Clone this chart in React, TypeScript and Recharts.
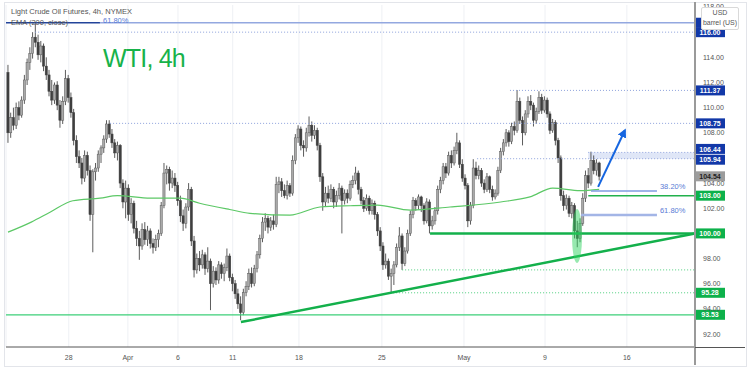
import React from 'react';
import {
  ComposedChart, Bar, Line, XAxis, YAxis, CartesianGrid,
  ReferenceLine, ReferenceDot, ReferenceArea,
} from 'recharts';

// 4h candles, [open, high, low, close]
const OHLC: [number, number, number, number][] = [
  [112.8, 113.4, 107.2, 108.0], [108.0, 109.6, 107.6, 109.2], [109.2, 110.0, 108.2, 108.6], [108.6, 110.4, 108.3, 110.0],
  [110.0, 110.5, 109.0, 109.4], [109.4, 110.9, 109.2, 110.6], [110.6, 112.6, 110.3, 112.2], [112.2, 113.9, 111.8, 113.6],
  [113.6, 114.8, 113.0, 114.3], [114.3, 116.0, 113.9, 115.6], [115.6, 116.7, 114.8, 115.2], [115.2, 115.8, 113.8, 114.2],
  [114.2, 115.3, 113.6, 114.9], [114.9, 115.1, 112.9, 113.3], [113.3, 114.0, 112.2, 112.6], [112.6, 113.0, 110.9, 111.3],
  [111.3, 112.2, 110.2, 110.6], [110.6, 112.0, 110.3, 111.8], [111.8, 112.1, 109.8, 110.2], [110.2, 110.6, 108.4, 109.0],
  [109.0, 110.9, 108.7, 110.5], [110.5, 113.0, 110.2, 112.3], [112.3, 112.6, 110.4, 110.8], [110.8, 111.2, 109.2, 109.6],
  [109.6, 109.9, 107.0, 107.4], [107.4, 107.8, 105.6, 106.1], [106.1, 106.6, 105.2, 105.6], [105.6, 106.0, 103.9, 104.4],
  [104.4, 106.6, 104.1, 106.2], [106.2, 106.5, 104.6, 105.0], [105.0, 105.4, 101.0, 101.5], [101.5, 105.1, 98.5, 104.9],
  [104.9, 105.6, 104.2, 105.2], [105.2, 106.6, 104.9, 106.3], [106.3, 107.0, 105.6, 106.8], [106.8, 107.8, 106.4, 107.5],
  [107.5, 109.0, 107.2, 108.7], [108.7, 109.0, 107.6, 107.9], [107.9, 108.3, 106.8, 107.2], [107.2, 107.5, 106.0, 106.4],
  [106.4, 107.3, 105.8, 107.0], [107.0, 107.1, 103.6, 104.0], [104.0, 104.3, 102.0, 102.5], [102.5, 104.2, 101.2, 103.6],
  [103.6, 103.9, 101.0, 101.5], [101.5, 102.8, 100.8, 102.4], [102.4, 102.6, 100.0, 100.4], [100.4, 101.0, 99.0, 99.6],
  [99.6, 100.2, 97.9, 99.0], [99.0, 100.8, 98.7, 100.3], [100.3, 100.9, 99.1, 99.5], [99.5, 100.6, 99.0, 100.2],
  [100.2, 100.4, 98.8, 99.2], [99.2, 99.6, 98.4, 98.9], [98.9, 99.9, 98.6, 99.5], [99.5, 100.3, 98.9, 100.0],
  [100.0, 102.5, 99.8, 102.2], [102.2, 105.6, 102.0, 104.8], [104.8, 105.4, 103.9, 105.1], [105.1, 105.3, 103.4, 104.0],
  [104.0, 105.0, 103.6, 104.4], [104.4, 104.8, 103.3, 103.8], [103.8, 104.1, 102.2, 102.6], [102.6, 103.0, 100.9, 101.4],
  [101.4, 101.9, 100.2, 100.8], [100.8, 102.4, 100.4, 102.1], [102.1, 104.0, 101.8, 103.5], [103.5, 103.7, 99.0, 99.4],
  [99.4, 99.8, 96.5, 97.1], [97.1, 98.4, 96.8, 98.0], [98.0, 98.6, 97.0, 97.5], [97.5, 98.7, 97.2, 98.3],
  [98.3, 98.5, 96.7, 97.2], [97.2, 98.9, 96.9, 97.8], [97.8, 98.0, 93.9, 96.0], [96.0, 97.4, 95.7, 97.0],
  [97.0, 97.3, 95.9, 96.3], [96.3, 97.8, 96.0, 97.5], [97.5, 97.7, 96.4, 96.8], [96.8, 97.6, 96.2, 97.3],
  [97.3, 98.8, 97.0, 98.2], [98.2, 98.4, 96.2, 96.5], [96.5, 96.8, 95.4, 96.0], [96.0, 96.3, 94.8, 95.2],
  [95.2, 95.6, 94.0, 94.4], [94.4, 95.0, 93.1, 93.7], [93.7, 95.6, 93.5, 95.3], [95.3, 96.2, 95.0, 95.8],
  [95.8, 97.2, 95.5, 96.8], [96.8, 97.3, 95.7, 96.0], [96.0, 97.5, 95.8, 97.2], [97.2, 98.6, 96.9, 98.3],
  [98.3, 99.9, 98.0, 99.6], [99.6, 101.3, 99.3, 100.9], [100.9, 101.6, 100.2, 101.2], [101.2, 101.4, 100.0, 100.5],
  [100.5, 101.3, 100.2, 101.0], [101.0, 101.5, 100.3, 100.7], [100.7, 104.5, 100.5, 103.9], [103.9, 104.5, 103.2, 104.1],
  [104.1, 104.4, 102.9, 103.4], [103.4, 103.9, 102.8, 103.0], [103.0, 104.2, 102.7, 103.8], [103.8, 104.0, 102.9, 103.2],
  [103.2, 106.2, 103.0, 105.8], [105.8, 107.9, 105.5, 107.6], [107.6, 108.6, 107.2, 108.3], [108.3, 108.5, 106.6, 107.0],
  [107.0, 107.4, 106.1, 106.8], [106.8, 108.4, 106.5, 108.0], [108.0, 109.3, 107.7, 108.6], [108.6, 108.9, 107.3, 107.8],
  [107.8, 108.6, 107.5, 108.2], [108.2, 108.4, 106.6, 107.0], [107.0, 107.2, 104.1, 104.5], [104.5, 104.8, 101.8, 102.5],
  [102.5, 103.7, 102.1, 103.2], [103.2, 103.8, 102.4, 102.8], [102.8, 103.9, 102.5, 103.5], [103.5, 103.7, 102.0, 102.5],
  [102.5, 103.4, 102.1, 103.0], [103.0, 104.0, 102.7, 103.6], [103.6, 103.8, 100.0, 102.6], [102.6, 103.5, 102.3, 103.2],
  [103.2, 103.5, 102.4, 102.8], [102.8, 104.2, 102.6, 103.9], [103.9, 104.6, 103.6, 104.2], [104.2, 105.3, 103.9, 104.8],
  [104.8, 105.0, 103.1, 103.5], [103.5, 103.7, 102.3, 102.6], [102.6, 102.9, 101.7, 102.0], [102.0, 103.1, 101.8, 102.8],
  [102.8, 103.0, 101.5, 101.8], [101.8, 102.7, 101.5, 102.4], [102.4, 102.6, 101.1, 101.5], [101.5, 101.7, 99.8, 100.2],
  [100.2, 100.5, 98.6, 99.0], [99.0, 99.3, 97.1, 97.5], [97.5, 98.4, 97.2, 97.8], [97.8, 98.0, 96.3, 96.6],
  [96.6, 97.2, 95.28, 96.8], [96.8, 97.8, 95.9, 97.5], [97.5, 99.2, 97.3, 98.9], [98.9, 100.5, 98.6, 99.8],
  [99.8, 100.0, 97.1, 97.6], [97.6, 98.9, 97.4, 98.6], [98.6, 100.3, 98.4, 100.0], [100.0, 101.8, 99.8, 101.5],
  [101.5, 102.9, 101.2, 102.6], [102.6, 102.8, 101.8, 102.2], [102.2, 103.1, 101.9, 102.9], [102.9, 103.0, 101.7, 102.2],
  [102.2, 102.4, 100.7, 101.0], [101.0, 102.8, 100.8, 102.5], [102.5, 102.7, 100.0, 100.6], [100.6, 101.4, 100.3, 101.0],
  [101.0, 102.1, 100.7, 101.8], [101.8, 103.8, 101.5, 103.5], [103.5, 104.5, 103.2, 104.2], [104.2, 105.6, 103.9, 105.3],
  [105.3, 105.6, 104.4, 104.8], [104.8, 106.5, 104.6, 106.2], [106.2, 106.6, 105.2, 105.6], [105.6, 106.9, 105.4, 106.6],
  [106.6, 108.0, 106.3, 107.2], [107.2, 107.4, 105.2, 105.5], [105.5, 105.9, 104.1, 104.4], [104.4, 104.7, 103.5, 103.8],
  [103.8, 104.0, 100.5, 101.0], [101.0, 102.5, 100.7, 102.2], [102.2, 105.9, 102.0, 105.2], [105.2, 105.7, 104.3, 104.6],
  [104.6, 105.4, 104.3, 105.0], [105.0, 105.2, 103.7, 104.0], [104.0, 104.3, 103.2, 103.5], [103.5, 104.8, 103.3, 104.5],
  [104.5, 104.6, 103.2, 103.5], [103.5, 103.8, 102.6, 102.9], [102.9, 103.5, 102.7, 103.2], [103.2, 105.3, 103.0, 105.0],
  [105.0, 106.8, 104.8, 106.5], [106.5, 107.5, 106.2, 107.2], [107.2, 108.3, 106.9, 108.0], [108.0, 108.2, 106.9, 107.3],
  [107.3, 108.8, 107.1, 108.5], [108.5, 108.9, 107.8, 108.2], [108.2, 111.4, 108.0, 110.5], [110.5, 110.8, 108.7, 109.0],
  [109.0, 109.3, 107.0, 108.0], [108.0, 109.8, 107.8, 109.5], [109.5, 110.9, 109.2, 110.5], [110.5, 111.0, 109.8, 110.2],
  [110.2, 110.4, 108.5, 109.0], [109.0, 110.0, 108.7, 109.7], [109.7, 111.3, 109.5, 110.8], [110.8, 111.1, 109.5, 109.8],
  [109.8, 110.9, 109.6, 110.6], [110.6, 110.8, 109.2, 109.5], [109.5, 109.7, 107.9, 108.2], [108.2, 109.1, 108.0, 108.8],
  [108.8, 109.0, 107.0, 107.4], [107.4, 107.6, 105.6, 106.0], [106.0, 106.2, 102.6, 103.0], [103.0, 103.4, 101.8, 102.2],
  [102.2, 103.1, 101.9, 102.8], [102.8, 103.0, 101.3, 101.6], [101.6, 102.5, 101.2, 102.2], [102.2, 102.4, 99.6, 100.2],
  [100.2, 101.0, 98.9, 99.6], [99.6, 101.2, 99.3, 100.8], [100.8, 103.2, 100.6, 102.8], [102.8, 105.0, 102.5, 104.6],
  [104.6, 105.2, 103.6, 104.0], [104.0, 106.5, 103.8, 105.8], [105.8, 106.2, 104.7, 105.0], [105.0, 105.9, 104.6, 105.6],
  [105.6, 105.7, 104.2, 104.54],
];

// EMA(200, close), sampled along the curve (candle index -> price)
const EMA_X = [0, 8.5, 15.5, 23.7, 33.6, 40, 52, 63, 70, 81, 88.4, 103, 114, 125, 135, 147, 161.5, 180, 190.7, 199, 209, 216];
const EMA_Y = [100.1, 100.9, 101.7, 102.6, 102.8, 103.0, 102.8, 102.8, 102.4, 101.9, 101.6, 101.45, 102.1, 102.2, 102.25, 101.85, 102.1, 102.5, 102.9, 103.6, 103.4, 103.5];

const TICK_POS = [22.2, 43.8, 62.1, 82.1, 106.3, 136.6, 166.6, 196.2, 226.1];
const TICK_LABELS = ['28', 'Apr', '6', '11', '18', '25', 'May', '9', '16'];
const PRICE_TICKS = [92, 94, 96, 98, 102, 104, 108, 110, 112, 114, 118];

const X_MIN = -0.73;
const X_MAX = 251;
const Y_MIN = 90.97;
const Y_MAX = 118.16;

// horizontal levels: [price, first candle index]
const BLUE_DOTTED: [number, number][] = [[116.0, 9.9], [111.37, 183.4], [108.75, 37.3], [106.44, 212], [105.94, 171.4]];
const GREEN_DOTTED: [number, number][] = [[97.1, 144], [95.28, 140.7]];
const FIB_TOP = 116.75;
const FIB_382 = 103.37;
const FIB_618 = 101.46;
const SUPPORT_103 = 103.0;
const SUPPORT_100 = 100.0;
const LOW_LINE = 93.53;
const TREND_FROM: [number, number] = [85.1, 92.95];
const TREND_TO: [number, number] = [251, 100.0];
const ARROW_FROM: [number, number] = [215.6, 103.7];
const ARROW_TO: [number, number] = [225.4, 108.2];
const DIP_CENTER: [number, number] = [207.9, 99.79];

// axis tags; the 116.75 one sits under the currency box, so it shows no text
const TAG_VALUES = [116.75, 116.0, 111.37, 108.75, 106.44, 105.94, 104.54, 103.0, 100.0, 95.28, 93.53];
const TAG_KINDS = ['hidden', 'blue', 'blue', 'blue', 'blue', 'blue', 'last', 'green', 'green', 'green', 'green'];
const TAG_NUDGE: Record<string, number> = { '106.44': -3.5, '105.94': 1 };

const FONT = '"Liberation Sans", Arial, sans-serif';

function Candle(props: any) {
  const { x, y, width, height, payload } = props;
  if (x == null || !payload) return null;
  const cx = x + width / 2;
  const top = Math.min(y, y + height);
  const span = Math.abs(height);
  const range = payload.h - payload.l || 1;
  const at = (v: number) => top + ((payload.h - v) / range) * span;
  const up = payload.c >= payload.o;
  const b1 = at(Math.max(payload.o, payload.c));
  const b2 = at(Math.min(payload.o, payload.c));
  return (
    <g>
      <line x1={cx} x2={cx} y1={top} y2={top + span} stroke="#4a4a4a" strokeWidth={0.9} />
      <rect
        x={cx - 1.1}
        y={b1}
        width={2.2}
        height={Math.max(b2 - b1, 0.8)}
        fill={up ? '#a9a9a9' : '#3f3f3f'}
        stroke={up ? '#5c5c5c' : '#3f3f3f'}
        strokeWidth={0.5}
      />
    </g>
  );
}

function PriceTag({ cx, cy, value, kind }: { cx: number; cy: number; value: number; kind: string }) {
  const fill = kind === 'last' ? '#9c9c9c' : kind === 'green' ? '#0db14b' : '#1238a8';
  const color = kind === 'last' ? '#1e1e1e' : '#ffffff';
  const dy = TAG_NUDGE[value.toFixed(2)] ?? 0;
  return (
    <g>
      <rect x={cx} y={cy - 5 + dy} width={30} height={10} fill={fill} />
      {kind !== 'hidden' && (
        <text x={cx + 15} y={cy + 2.6 + dy} textAnchor="middle" fontSize={7} fontWeight={700} fill={color} fontFamily={FONT}>
          {value.toFixed(2)}
        </text>
      )}
    </g>
  );
}

export default function App() {
  const data = OHLC.map(([o, h, l, c], i) => ({ i, o, h, l, c }));
  const ema = EMA_X.map((i, k) => ({ i, v: EMA_Y[k] }));

  return (
    <div style={{ position: 'absolute', left: 0, top: 0, width: 751, height: 370, background: '#fff', fontFamily: FONT }}>
      <ComposedChart width={751} height={370} data={data} margin={{ top: 5, right: 6, bottom: 5, left: 6 }}>
        <defs>
          <marker id="arrowHead" markerWidth="9" markerHeight="9" refX="7" refY="4.5" orient="auto" markerUnits="userSpaceOnUse">
            <path d="M0,0 L9,4.5 L0,9 z" fill="#1565e0" />
          </marker>
        </defs>
        <CartesianGrid horizontal={false} stroke="#eef0f4" />
        <XAxis
          dataKey="i"
          type="number"
          domain={[X_MIN, X_MAX]}
          allowDataOverflow
          ticks={TICK_POS}
          tickFormatter={(v: number) => TICK_LABELS[TICK_POS.indexOf(v)] ?? ''}
          tickLine={false}
          axisLine={{ stroke: '#555', strokeWidth: 1 }}
          tick={{ fontSize: 7, fill: '#555', fontFamily: FONT }}
          height={18}
        />
        <YAxis
          orientation="right"
          domain={[Y_MIN, Y_MAX]}
          allowDataOverflow
          ticks={PRICE_TICKS}
          tickFormatter={(v: number) => v.toFixed(2)}
          tickLine={false}
          axisLine={{ stroke: '#9a9a9a', strokeWidth: 2 }}
          tick={{ fontSize: 7, fill: '#555', fontFamily: FONT }}
          width={50}
        />

        <ReferenceArea x1={212} x2={X_MAX} y1={105.94} y2={106.44} fill="#dfe6f7" fillOpacity={1} stroke="none" />

        {BLUE_DOTTED.map(([p, from]) => (
          <ReferenceLine key={`b${p}`} segment={[{ x: from, y: p }, { x: X_MAX, y: p }]} stroke="#8ea2dc" strokeDasharray="1 2" />
        ))}
        {GREEN_DOTTED.map(([p, from]) => (
          <ReferenceLine key={`g${p}`} segment={[{ x: from, y: p }, { x: X_MAX, y: p }]} stroke="#4fd07f" strokeDasharray="1 2" />
        ))}
        <ReferenceLine segment={[{ x: X_MIN, y: FIB_TOP }, { x: 33.6, y: FIB_TOP }]} stroke="#23449a" strokeWidth={1.5} />
        <ReferenceLine segment={[{ x: 33.6, y: FIB_TOP }, { x: X_MAX, y: FIB_TOP }]} stroke="#93a8e0" strokeWidth={1.5} />
        <ReferenceLine segment={[{ x: X_MIN, y: LOW_LINE }, { x: X_MAX, y: LOW_LINE }]} stroke="#3ccf78" strokeWidth={1.2} />

        <Bar dataKey={(d: any) => [d.l, d.h]} barSize={3} isAnimationActive={false} shape={(p: any) => <Candle {...p} />} />
        <Line data={ema} dataKey="v" type="monotone" stroke="#5cc866" strokeWidth={1.2} dot={false} isAnimationActive={false} />

        <ReferenceLine segment={[{ x: 213, y: FIB_382 }, { x: 237.1, y: FIB_382 }]} stroke="#7f9be0" strokeWidth={1.5} />
        <ReferenceLine segment={[{ x: 209.4, y: FIB_618 }, { x: 237.1, y: FIB_618 }]} stroke="#a3b5e6" strokeWidth={2.5} />
        <ReferenceLine segment={[{ x: 212, y: SUPPORT_103 }, { x: X_MAX, y: SUPPORT_103 }]} stroke="#22b14c" strokeWidth={1.5} />
        <ReferenceLine segment={[{ x: 154.2, y: SUPPORT_100 }, { x: X_MAX, y: SUPPORT_100 }]} stroke="#13b04b" strokeWidth={2.5} />
        <ReferenceLine
          segment={[{ x: TREND_FROM[0], y: TREND_FROM[1] }, { x: TREND_TO[0], y: TREND_TO[1] }]}
          stroke="#13b04b"
          strokeWidth={2.5}
        />
        <ReferenceLine
          segment={[{ x: ARROW_FROM[0], y: ARROW_FROM[1] }, { x: ARROW_TO[0], y: ARROW_TO[1] }]}
          stroke="#1565e0"
          strokeWidth={2}
          markerEnd="url(#arrowHead)"
        />
        <ReferenceDot
          x={DIP_CENTER[0]}
          y={DIP_CENTER[1]}
          ifOverflow="visible"
          shape={(p: any) => <ellipse cx={p.cx} cy={p.cy} rx={5} ry={27} fill="#2fd35f" fillOpacity={0.5} />}
        />
        <ReferenceDot
          x={237.1}
          y={FIB_382}
          ifOverflow="visible"
          shape={(p: any) => (
            <text x={p.cx + 3} y={p.cy - 2.5} fontSize={7.5} fill="#5a7bd5" fontFamily={FONT}>38.20%</text>
          )}
        />
        <ReferenceDot
          x={237.1}
          y={FIB_618}
          ifOverflow="visible"
          shape={(p: any) => (
            <text x={p.cx + 3} y={p.cy - 2.5} fontSize={7.5} fill="#5a7bd5" fontFamily={FONT}>61.80%</text>
          )}
        />

        {TAG_VALUES.map((v, k) => (
          <ReferenceDot
            key={`t${v}`}
            x={X_MAX}
            y={v}
            ifOverflow="visible"
            shape={(p: any) => <PriceTag cx={p.cx} cy={p.cy} value={v} kind={TAG_KINDS[k]} />}
          />
        ))}
      </ComposedChart>

      {/* frame, axis extensions and overlay texts */}
      <div style={{ position: 'absolute', left: 4, top: 2, width: 741, height: 363, border: '1px solid #e3e5ea', pointerEvents: 'none' }} />
      <div style={{ position: 'absolute', left: 694, top: 2, width: 2, height: 363, background: '#9a9a9a' }} />
      <div style={{ position: 'absolute', left: 695, top: 347, width: 50, height: 1, background: '#555' }} />
      <div style={{ position: 'absolute', left: 11, top: 8, fontSize: 7.5, lineHeight: 1, color: '#555', whiteSpace: 'nowrap' }}>
        Light Crude Oil Futures, 4h, NYMEX
      </div>
      <div style={{ position: 'absolute', left: 11, top: 18.5, fontSize: 7.5, lineHeight: 1, color: '#555', whiteSpace: 'nowrap' }}>
        EMA (200, close)
      </div>
      <div style={{ position: 'absolute', left: 103, top: 16.5, fontSize: 7.5, lineHeight: 1, color: '#5a7bd5' }}>61.80%</div>
      <div style={{ position: 'absolute', left: 103, top: 45.5, fontSize: 25, lineHeight: 1, letterSpacing: -0.8, color: '#17b24a', whiteSpace: 'nowrap' }}>
        WTI, 4h
      </div>
      <div
        style={{
          position: 'absolute', left: 701, top: 7, width: 36, height: 21, background: '#fff',
          border: '1px solid #d9d9d9', borderRadius: 2, fontSize: 7, color: '#555', textAlign: 'center', lineHeight: '10px',
        }}
      >
        USD
        <br />
        barrel (US)
      </div>
    </div>
  );
}
